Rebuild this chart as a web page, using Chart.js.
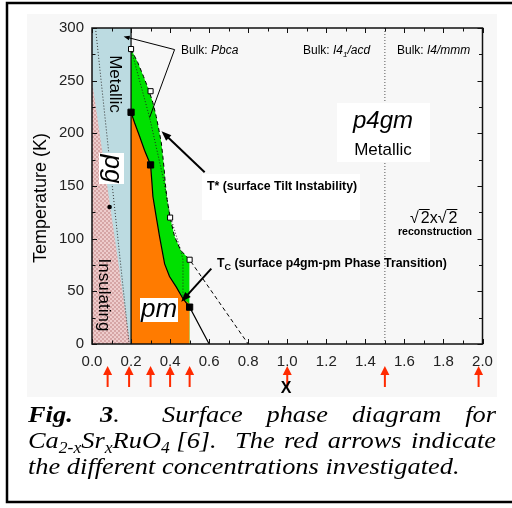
<!DOCTYPE html>
<html>
<head>
<meta charset="utf-8">
<script src="https://cdn.jsdelivr.net/npm/chart.js@4.4.0/dist/chart.umd.min.js"></script>
<style>
  html, body { margin: 0; padding: 0; background: #fff; }
  #c { display: block; }
</style>
</head>
<body>
<canvas id="c" width="512" height="508"></canvas>
<script>
// ---------- Data ----------
const xRange = [0, 2];
const yRange = [0, 300];
const xStep = 0.1;   // tick every 0.1, label every 0.2
const yStep = 25;    // tick every 25 K, label every 50 K

// regions
const metallicBand = [{x: 0, y: 300}, {x: 0.2, y: 300}];
const insulatingEdge = [{x: 0, y: 250}, {x: 0.195, y: 0}];
const pgDotted = [{x: 0.018, y: 300}, {x: 0.19, y: 0}];
const surfaceEdge = [{x: 0.2, y: 0}, {x: 0.2, y: 300}];
const bulkEdge = [{x: 1.5, y: 0}, {x: 1.5, y: 300}];

// T* (green region right edge)
const tStarEdge = [
  {x: 0.2, y: 280}, {x: 0.235, y: 267}, {x: 0.264, y: 254}, {x: 0.291, y: 241},
  {x: 0.312, y: 229}, {x: 0.329, y: 216}, {x: 0.343, y: 203}, {x: 0.355, y: 191},
  {x: 0.363, y: 178}, {x: 0.37, y: 165}, {x: 0.375, y: 153}, {x: 0.385, y: 137},
  {x: 0.4, y: 120}, {x: 0.423, y: 102}, {x: 0.454, y: 89}, {x: 0.5, y: 80}
];
const greenClose = [{x: 0.5, y: 45}, {x: 0.5, y: 0}];
const tStarDashed = [{x: 0.5, y: 80}, {x: 0.8, y: 0}];

// Tc (orange region edge)
const tcCurve = [
  {x: 0.2, y: 220}, {x: 0.218, y: 210}, {x: 0.244, y: 197}, {x: 0.269, y: 184},
  {x: 0.3, y: 170}, {x: 0.307, y: 153}, {x: 0.312, y: 140}, {x: 0.326, y: 124},
  {x: 0.346, y: 102}, {x: 0.372, y: 76}, {x: 0.397, y: 64}, {x: 0.432, y: 54},
  {x: 0.466, y: 43}, {x: 0.5, y: 35}, {x: 0.6, y: 0}
];
const orangeClose = [{x: 0.5, y: 38}, {x: 0.5, y: 0}];

// bulk Pbca boundary (dotted)
const pbcaDotted = [
  {x: 0.2, y: 280}, {x: 0.295, y: 215}, {x: 0.363, y: 159}, {x: 0.4, y: 122},
  {x: 0.454, y: 89}, {x: 0.466, y: 80}, {x: 0.466, y: 45}
];

// measured points
const openSquares = [{x: 0.2, y: 280}, {x: 0.3, y: 240}, {x: 0.4, y: 120}, {x: 0.5, y: 80}];
const filledSquares = [{x: 0.2, y: 220}, {x: 0.3, y: 170}, {x: 0.5, y: 35}];
const pgPoint = [{x: 0.09, y: 130}];

// concentrations investigated (red arrows)
const investigated = [0.08, 0.19, 0.3, 0.4, 0.5, 1.0, 1.5, 1.98];

// annotation arrows [tail, head] in data units
const pointers = [
  {from: {x: 0.577, y: 163}, to: {x: 0.356, y: 202}, w: 2, head: 10},
  {from: {x: 0.611, y: 71.5}, to: {x: 0.457, y: 40}, w: 2, head: 10},
  {from: {x: 0.423, y: 279.5}, to: {x: 0.162, y: 292}, w: 1, head: 6},
  {from: {x: 0.423, y: 279.5}, to: {x: 0.295, y: 215}, w: 1, head: 0}
];

// ---------- Helpers ----------
function checker() {
  const c = document.createElement("canvas");
  c.width = 4; c.height = 4;
  const g = c.getContext("2d");
  g.fillStyle = "#eecccc"; g.fillRect(0, 0, 4, 4);
  g.fillStyle = "#d6a6a6";
  g.fillRect(0, 0, 2, 2); g.fillRect(2, 2, 2, 2);
  return g.createPattern(c, "repeat");
}

function text(ctx, s, x, y, font, align, rot) {
  ctx.save();
  ctx.font = font;
  ctx.fillStyle = "#000";
  ctx.textAlign = align || "left";
  ctx.textBaseline = "middle";
  ctx.translate(x, y);
  if (rot) ctx.rotate(rot);
  ctx.fillText(s, 0, 0);
  const w = ctx.measureText(s).width;
  ctx.restore();
  return w;
}

// run of text pieces on one line, returns end x
function runs(ctx, parts, x, y, sx) {
  for (const p of parts) {
    ctx.save();
    ctx.font = p.font;
    ctx.fillStyle = "#000";
    ctx.textBaseline = "alphabetic";
    ctx.translate(x, y + (p.dy || 0));
    ctx.scale(sx || 1, 1);
    ctx.fillText(p.t, 0, 0);
    x += ctx.measureText(p.t).width * (sx || 1);
    ctx.restore();
  }
  return x;
}

// words spread evenly between x0 and x1
function justify(ctx, words, font, x0, x1, y, sx) {
  ctx.save();
  ctx.font = font;
  const ws = words.map((w) => ctx.measureText(w).width * sx);
  ctx.restore();
  const gap = (x1 - x0 - ws.reduce((s, v) => s + v, 0)) / (words.length - 1);
  let x = x0;
  words.forEach((w, i) => {
    runs(ctx, [{t: w, font: font}], x, y, sx);
    x += ws[i] + gap;
  });
}

function arrow(ctx, x1, y1, x2, y2, w, head) {
  const a = Math.atan2(y2 - y1, x2 - x1);
  ctx.save();
  ctx.strokeStyle = "#000";
  ctx.fillStyle = "#000";
  ctx.lineWidth = w;
  ctx.beginPath();
  ctx.moveTo(x1, y1);
  ctx.lineTo(x2 - Math.cos(a) * head * 0.7, y2 - Math.sin(a) * head * 0.7);
  ctx.stroke();
  if (head > 0) {
    ctx.translate(x2, y2);
    ctx.rotate(a);
    ctx.beginPath();
    ctx.moveTo(0, 0);
    ctx.lineTo(-head, -head * 0.38);
    ctx.lineTo(-head, head * 0.38);
    ctx.closePath();
    ctx.fill();
  }
  ctx.restore();
}

const SANS = '"Liberation Sans", Arial, sans-serif';
const SERIF = '"Liberation Serif", "Times New Roman", serif';

// ---------- Drawing plugin ----------
const figurePlugin = {
  id: "figure",
  beforeDraw(chart) {
    const ctx = chart.ctx;
    ctx.save();
    ctx.fillStyle = "#fff";
    ctx.fillRect(0, 0, chart.width, chart.height);
    ctx.fillStyle = "#f7f7f7";
    ctx.fillRect(27, 14, 470, 383);
    ctx.restore();
  },
  afterDatasetsDraw(chart) {
    const ctx = chart.ctx;
    const xs = chart.scales.x, ys = chart.scales.y;
    const a = chart.chartArea;
    const px = (v) => xs.getPixelForValue(v);
    const py = (v) => ys.getPixelForValue(v);

    // white label boxes
    ctx.save();
    ctx.fillStyle = "#fff";
    [[99, 153, 25, 31], [140, 298, 38, 24], [337, 103, 93, 59], [202, 174, 158, 46]]
      .forEach((b) => ctx.fillRect(b[0], b[1], b[2], b[3]));
    ctx.restore();

    // pointers
    pointers.forEach((p) =>
      arrow(ctx, px(p.from.x), py(p.from.y), px(p.to.x), py(p.to.y), p.w, p.head));

    // labels inside the plot
    text(ctx, "Metallic", 115, 84, "17px " + SANS, "center", Math.PI / 2);
    text(ctx, "pg", 112, 169, "italic 26px " + SANS, "center", Math.PI / 2);
    text(ctx, "Insulating", 104, 295, "17px " + SANS, "center", Math.PI / 2);
    text(ctx, "pm", 159, 310, "italic 26px " + SANS, "center");
    text(ctx, "p4gm", 383, 121, "italic 24px " + SANS, "center");
    text(ctx, "Metallic", 383, 150, "17px " + SANS, "center");

    runs(ctx, [{t: "Bulk: ", font: "12px " + SANS}, {t: "Pbca", font: "italic 12px " + SANS}], 181, 54);
    runs(ctx, [
      {t: "Bulk: ", font: "12px " + SANS}, {t: "I4", font: "italic 12px " + SANS},
      {t: "1", font: "italic 8px " + SANS, dy: 3}, {t: "/acd", font: "italic 12px " + SANS}
    ], 303, 54);
    runs(ctx, [{t: "Bulk: ", font: "12px " + SANS}, {t: "I4/mmm", font: "italic 12px " + SANS}], 397, 54);

    runs(ctx, [{t: "T* (surface Tilt Instability)", font: "bold 12.3px " + SANS}], 207, 189.5);
    runs(ctx, [
      {t: "T", font: "bold 12.3px " + SANS}, {t: "C", font: "bold 9px " + SANS, dy: 2.5},
      {t: " (surface p4gm-pm Phase Transition)", font: "bold 12.3px " + SANS}
    ], 217, 267);

    // sqrt2 x sqrt2 reconstruction
    ctx.save();
    ctx.font = "16px " + SANS;
    ctx.textBaseline = "alphabetic";
    let x = 410;
    const y0 = 223;
    ["\u221A", "2", "x", "\u221A", "2"].forEach((s) => {
      const w = ctx.measureText(s).width;
      ctx.fillText(s, x, y0);
      if (s === "2") ctx.fillRect(x - 2, y0 - 14, w + 2, 1);
      x += w + (s === "\u221A" ? 2 : 0);
    });
    ctx.restore();
    text(ctx, "reconstruction", 435, 232.5, "bold 10.6px " + SANS, "center");

    // frame and inward ticks
    ctx.save();
    ctx.strokeStyle = "#111";
    ctx.lineWidth = 1.5;
    ctx.strokeRect(a.left, a.top, a.right - a.left, a.bottom - a.top);
    ctx.lineWidth = 1;
    ctx.beginPath();
    xs.ticks.forEach((t) => {
      const p = Math.round(px(t.value)) + 0.5;
      const len = t.label !== "" ? 5 : 3.5;
      ctx.moveTo(p, a.bottom); ctx.lineTo(p, a.bottom - len);
      ctx.moveTo(p, a.top); ctx.lineTo(p, a.top + len);
    });
    ys.ticks.forEach((t) => {
      const p = Math.round(py(t.value)) + 0.5;
      const len = t.label !== "" ? 5 : 3.5;
      ctx.moveTo(a.left, p); ctx.lineTo(a.left + len, p);
      ctx.moveTo(a.right, p); ctx.lineTo(a.right - len, p);
    });
    ctx.stroke();
    ctx.restore();

    // red arrows: concentrations investigated
    ctx.save();
    ctx.fillStyle = "#ff2a00";
    investigated.forEach((c) => {
      const p = px(c);
      ctx.fillRect(p - 1, 373, 2, 14);
      ctx.beginPath();
      ctx.moveTo(p, 366);
      ctx.lineTo(p - 4.5, 375);
      ctx.lineTo(p + 4.5, 375);
      ctx.closePath();
      ctx.fill();
    });
    ctx.restore();

    // axis titles
    text(ctx, "Temperature (K)", 41, 198, "18px " + SANS, "center", -Math.PI / 2);
    text(ctx, "X", 286, 389, "bold 16px " + SANS, "center");

    // caption
    const S = 1.1;
    const it = "italic 24px " + SERIF, bi = "bold italic 24px " + SERIF, sub = "italic 16px " + SERIF;
    runs(ctx, [{t: "Fig.", font: bi}], 28, 421.5, S);
    runs(ctx, [{t: "3", font: bi}, {t: ".", font: it}], 100, 421.5, S);
    justify(ctx, ["Surface", "phase", "diagram", "for"], it, 162, 496, 421.5, S);
    runs(ctx, [
      {t: "Ca", font: it}, {t: "2-x", font: sub, dy: 5}, {t: "Sr", font: it},
      {t: "x", font: sub, dy: 5}, {t: "RuO", font: it}, {t: "4", font: sub, dy: 5},
      {t: " [6].", font: it}
    ], 28, 448, S);
    justify(ctx, ["The", "red", "arrows", "indicate"], it, 235, 496, 448, S);
    runs(ctx, [{t: "the different concentrations investigated.", font: it}], 28, 473.5, S);

    // outer border
    ctx.save();
    ctx.strokeStyle = "#000";
    ctx.lineWidth = 2.5;
    ctx.strokeRect(7, 3, 520, 499);
    ctx.restore();
  }
};

// ---------- Chart ----------
function lineSet(data, opts) {
  return Object.assign({
    data: data, pointRadius: 0, borderWidth: 1, borderColor: "#000",
    fill: false, tension: 0
  }, opts);
}

new Chart(document.getElementById("c"), {
  type: "line",
  data: {
    datasets: [
      lineSet(metallicBand, {order: 20, fill: "origin", backgroundColor: "#bcdbe1", borderWidth: 0}),
      lineSet(insulatingEdge, {order: 19, fill: "origin", backgroundColor: checker(), borderWidth: 0}),
      lineSet(pgDotted, {order: 18, borderColor: "#333", borderDash: [1, 2]}),
      lineSet(tStarEdge.concat(greenClose), {order: 17, fill: "origin", backgroundColor: "#00e000", borderWidth: 0}),
      lineSet(tcCurve.slice(0, 13).concat(orangeClose), {order: 16, fill: "origin", backgroundColor: "#ff7b00", borderWidth: 0}),
      lineSet(pbcaDotted, {order: 15, borderColor: "#222", borderDash: [1, 2]}),
      lineSet(tStarEdge.concat(tStarDashed.slice(1)), {order: 14, borderDash: [4, 3]}),
      lineSet(tcCurve, {order: 13, borderWidth: 1.2}),
      lineSet(surfaceEdge, {order: 12, borderWidth: 1.2}),
      lineSet(bulkEdge, {order: 11, borderColor: "#555", borderDash: [1, 2]}),
      {data: openSquares, showLine: false, order: 3, pointStyle: "rect", pointRadius: 3.6,
        pointBackgroundColor: "#fff", pointBorderColor: "#000", pointBorderWidth: 1},
      {data: filledSquares, showLine: false, order: 2, pointStyle: "rect", pointRadius: 4.4,
        pointBackgroundColor: "#000", pointBorderColor: "#000", pointBorderWidth: 1},
      {data: pgPoint, showLine: false, order: 1, pointStyle: "circle", pointRadius: 2.3,
        pointBackgroundColor: "#000", pointBorderColor: "#000", pointBorderWidth: 0}
    ]
  },
  options: {
    responsive: false,
    animation: false,
    events: [],
    layout: {padding: {top: 28, right: 29.5, bottom: 0, left: 0}},
    plugins: {legend: {display: false}, tooltip: {enabled: false}},
    scales: {
      x: {
        type: "linear", min: xRange[0], max: xRange[1],
        grid: {display: false, drawTicks: false},
        border: {display: false},
        ticks: {
          stepSize: xStep, autoSkip: false, maxRotation: 0, padding: 9,
          color: "#222", font: {family: SANS, size: 15},
          callback: (v) => (Math.round(v * 10) % 2 === 0 ? v.toFixed(1) : "")
        },
        afterFit: (s) => { s.height = 164; }
      },
      y: {
        type: "linear", min: yRange[0], max: yRange[1],
        grid: {display: false, drawTicks: false},
        border: {display: false},
        ticks: {
          stepSize: yStep, autoSkip: false, padding: 8,
          color: "#222", font: {family: SANS, size: 15},
          callback: (v) => (v % 50 === 0 ? String(v) : "")
        },
        afterFit: (s) => { s.width = 92; }
      }
    }
  },
  plugins: [figurePlugin]
});
</script>
</body>
</html>
